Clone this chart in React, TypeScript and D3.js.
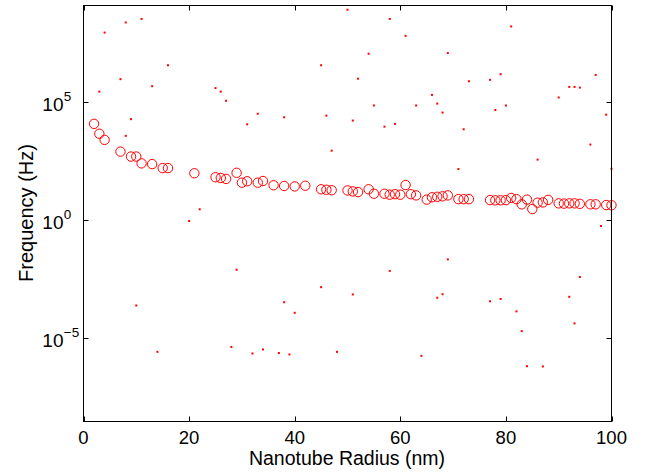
import React from "react";
import * as d3 from "d3";

// Open-circle series: nanotube radius (nm) and log10 of frequency (Hz)
const circleRadius = [2, 3, 4, 7, 9, 10, 11, 13, 15, 16, 21, 25, 26, 27, 29, 30, 31, 33, 34, 36, 38, 40, 42, 45, 46, 47, 50, 51, 52, 54, 55, 57, 58, 59, 60, 61, 62, 63, 65, 66, 67, 68, 69, 71, 72, 73, 77, 78, 79, 80, 81, 82, 83, 84, 85, 86, 87, 88, 90, 91, 92, 93, 94, 96, 97, 99, 100];
const circleLogFreq = [4.08, 3.66, 3.40, 2.90, 2.69, 2.69, 2.40, 2.37, 2.20, 2.20, 1.98, 1.81, 1.78, 1.74, 2.0, 1.58, 1.64, 1.58, 1.65, 1.47, 1.44, 1.42, 1.45, 1.30, 1.28, 1.26, 1.25, 1.21, 1.18, 1.30, 1.11, 1.11, 1.07, 1.09, 1.07, 1.48, 1.09, 1.04, 0.86, 0.96, 0.98, 1.0, 1.04, 0.88, 0.88, 0.88, 0.84, 0.83, 0.83, 0.84, 0.93, 0.88, 0.66, 0.86, 0.46, 0.73, 0.74, 0.85, 0.70, 0.69, 0.70, 0.70, 0.68, 0.66, 0.66, 0.63, 0.62];

// Dot series: nanotube radius (nm) and log10 of frequency (Hz)
const dotRadius = [4, 8, 11, 16, 7, 13, 3, 25, 26, 9, 8, 50, 58, 61, 54, 45, 52, 27, 33, 38, 46, 55, 63, 31, 51, 57, 59, 47, 81, 69, 97, 73, 77, 79, 92, 93, 94, 90, 66, 67, 68, 78, 80, 99, 72, 96, 86, 22, 20, 10, 29, 58, 45, 51, 38, 71, 100, 98, 69, 94, 68, 67, 77, 79, 92, 14, 40, 28, 32, 34, 37, 39, 48, 82, 83, 93, 84, 87, 64];
const dotLogFreq = [7.96, 8.39, 8.54, 6.57, 5.98, 5.68, 5.45, 5.60, 5.45, 4.28, 3.57, 8.93, 8.54, 7.82, 7.06, 6.57, 6.0, 5.06, 4.51, 4.36, 4.43, 4.86, 4.86, 4.06, 4.22, 3.96, 4.08, 2.94, 8.22, 7.09, 6.16, 5.89, 5.95, 6.19, 5.65, 5.65, 5.62, 5.20, 5.31, 4.94, 4.56, 4.67, 4.86, 4.47, 3.85, 3.20, 2.56, 0.45, -0.05, -3.64, -2.12, -2.17, -2.86, -3.17, -3.50, 2.16, 2.17, -0.26, -1.68, -2.43, -3.16, -3.31, -3.46, -3.36, -3.27, -5.61, -3.95, -5.40, -5.68, -5.51, -5.66, -5.72, -5.61, -3.89, -4.73, -4.40, -6.22, -6.23, -5.78];

const xTicks = [0, 20, 40, 60, 80, 100];
const yTickExponents = [-5, 0, 5];
const xDomain = [0, 100];
const yLogDomain = [-8.57, 9.11];

const W = 647;
const H = 473;
const FONT = "'Liberation Sans', Arial, Helvetica, sans-serif";

export default function App() {
  const left = 83.5, right = 611.5, top = 5.5, bottom = 421.5;
  const x = d3.scaleLinear().domain(xDomain).range([left, right]);
  const y = d3
    .scaleLog()
    .domain([Math.pow(10, yLogDomain[0]), Math.pow(10, yLogDomain[1])])
    .range([bottom, top]);
  const tl = 5;

  return (
    <svg
      width={W}
      height={H}
      style={{ position: "absolute", left: 0, top: 0, background: "#fff" }}
      fontFamily={FONT}
    >
      <rect x={0} y={0} width={W} height={H} fill="#fff" />
      {/* dots */}
      {dotRadius.map((r, i) => (
        <rect
          key={"d" + i}
          x={x(r) - 1}
          y={y(Math.pow(10, dotLogFreq[i])) - 1}
          width={2}
          height={2}
          fill="#ff0000"
        />
      ))}
      {/* circles */}
      {circleRadius.map((r, i) => (
        <circle
          key={"c" + i}
          cx={x(r)}
          cy={y(Math.pow(10, circleLogFreq[i]))}
          r={4.7}
          fill="none"
          stroke="#ff0000"
          strokeWidth={1}
        />
      ))}
      {/* axes box */}
      <rect
        x={left}
        y={top}
        width={right - left}
        height={bottom - top}
        fill="none"
        stroke="#000"
        strokeWidth={1}
      />
      {/* x ticks */}
      {xTicks.map((t) => {
        const px = Math.round(x(t)) + 0.5;
        return (
          <g key={"xt" + t}>
            <line x1={px} x2={px} y1={bottom} y2={bottom - tl} stroke="#000" />
            <line x1={px} x2={px} y1={top} y2={top + tl} stroke="#000" />
            <text x={x(t)} y={443.5} textAnchor="middle" fontSize={18.5} fill="#000">
              {t}
            </text>
          </g>
        );
      })}
      {/* y ticks */}
      {yTickExponents.map((e) => {
        const py = Math.round(y(Math.pow(10, e))) + 0.5;
        return (
          <g key={"yt" + e}>
            <line x1={left} x2={left + tl} y1={py} y2={py} stroke="#000" />
            <line x1={right} x2={right - tl} y1={py} y2={py} stroke="#000" />
            <text x={63.5} y={py + 8} textAnchor="end" fontSize={19} fill="#000">
              10
            </text>
            <text x={63.8} y={py - 2} textAnchor="start" fontSize={13.5} fill="#000">
              {e < 0 ? "\u2212" + Math.abs(e) : String(e)}
            </text>
          </g>
        );
      })}
      <text x={347} y={464.5} textAnchor="middle" fontSize={19.5} fill="#000">
        Nanotube Radius (nm)
      </text>
      <text
        transform={`translate(33,213) rotate(-90)`}
        textAnchor="middle"
        fontSize={20}
        fill="#000"
      >
        Frequency (Hz)
      </text>
    </svg>
  );
}
